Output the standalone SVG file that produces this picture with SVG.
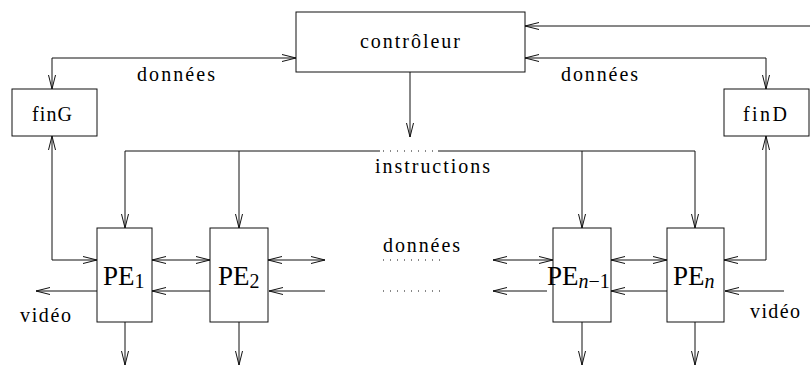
<svg xmlns="http://www.w3.org/2000/svg" width="810" height="366" viewBox="0 0 810 366">
  <style>
    .box { fill: #fff; stroke: #111; stroke-width: 1; }
    .wire { fill: none; stroke: #111; stroke-width: 1; }
    .dots { fill: none; stroke: #111; stroke-width: 1; stroke-dasharray: 1 6; }
    .lbl { font-family: "Liberation Serif", "Times New Roman", serif; font-size: 20px; fill: #000; }
    .pe { font-family: "Liberation Serif", "Times New Roman", serif; font-size: 27px; fill: #000; }
    .sub { font-size: 20px; }
    .it { font-style: italic; }
  </style>
  <defs>
    <marker id="arr" markerUnits="userSpaceOnUse" markerWidth="16" markerHeight="10" viewBox="-15 -5 16 10" refX="0" refY="0" orient="auto-start-reverse">
      <path d="M -14 -3.5 L 0 0 L -14 3.5" fill="none" stroke="#111" stroke-width="1"/>
    </marker>
  </defs>

  <!-- connectors -->
  <g id="connectors">
    <!-- external input into the controller -->
    <path class="wire" d="M 810 26 H 525" marker-end="url(#arr)"/>
    <!-- data links controller <-> edge buffers -->
    <path class="wire" d="M 296 58 H 52 V 89" marker-start="url(#arr)" marker-end="url(#arr)"/>
    <path class="wire" d="M 525 58 H 766 V 89" marker-start="url(#arr)" marker-end="url(#arr)"/>
    <!-- instruction broadcast -->
    <path class="wire" d="M 410 72 V 137" marker-end="url(#arr)"/>
    <path class="wire" d="M 125 151 H 380"/>
    <path class="dots" d="M 383 151 H 436"/>
    <path class="wire" d="M 438 151 H 695"/>
    <path class="wire" d="M 125 151 V 228" marker-end="url(#arr)"/>
    <path class="wire" d="M 239 151 V 228" marker-end="url(#arr)"/>
    <path class="wire" d="M 582 151 V 228" marker-end="url(#arr)"/>
    <path class="wire" d="M 695 151 V 228" marker-end="url(#arr)"/>
    <!-- edge buffers <-> end PEs -->
    <path class="wire" d="M 52 136 V 260 H 97" marker-start="url(#arr)" marker-end="url(#arr)"/>
    <path class="wire" d="M 766 136 V 260 H 724" marker-start="url(#arr)" marker-end="url(#arr)"/>
    <!-- neighbour data links -->
    <path class="wire" d="M 152 260 H 210" marker-start="url(#arr)" marker-end="url(#arr)"/>
    <path class="wire" d="M 268 260 H 325" marker-start="url(#arr)" marker-end="url(#arr)"/>
    <path class="dots" d="M 383 260 H 442"/>
    <path class="wire" d="M 493 260 H 553" marker-start="url(#arr)" marker-end="url(#arr)"/>
    <path class="wire" d="M 611 260 H 667" marker-start="url(#arr)" marker-end="url(#arr)"/>
    <!-- video shift chain -->
    <path class="wire" d="M 784 291 H 725" marker-end="url(#arr)"/>
    <path class="wire" d="M 667 291 H 611" marker-end="url(#arr)"/>
    <path class="wire" d="M 547 291 H 493" marker-end="url(#arr)"/>
    <path class="dots" d="M 383 291 H 444"/>
    <path class="wire" d="M 325 291 H 269" marker-end="url(#arr)"/>
    <path class="wire" d="M 210 291 H 152" marker-end="url(#arr)"/>
    <path class="wire" d="M 97 291 H 36" marker-end="url(#arr)"/>
    <!-- outputs -->
    <path class="wire" d="M 125 322 V 365" marker-end="url(#arr)"/>
    <path class="wire" d="M 239 322 V 365" marker-end="url(#arr)"/>
    <path class="wire" d="M 582 322 V 365" marker-end="url(#arr)"/>
    <path class="wire" d="M 695 322 V 365" marker-end="url(#arr)"/>
  </g>

  <!-- connector labels -->
  <g id="labels">
    <text class="lbl" x="137" y="81" textLength="78" lengthAdjust="spacing">données</text>
    <text class="lbl" x="561" y="81" textLength="77" lengthAdjust="spacing">données</text>
    <text class="lbl" x="375" y="173" textLength="115" lengthAdjust="spacing">instructions</text>
    <text class="lbl" x="383" y="252" textLength="77" lengthAdjust="spacing">données</text>
    <text class="lbl" x="20" y="322" textLength="51" lengthAdjust="spacing">vidéo</text>
    <text class="lbl" x="750" y="318" textLength="50" lengthAdjust="spacing">vidéo</text>
  </g>

  <g id="controleur">
    <rect class="box" x="296" y="12" width="229" height="60"/>
    <text class="lbl" x="360" y="48" textLength="100" lengthAdjust="spacing">contrôleur</text>
  </g>

  <g id="finG">
    <rect class="box" x="12" y="89" width="85" height="47"/>
    <text class="lbl" x="32" y="121" textLength="40" lengthAdjust="spacing">finG</text>
  </g>

  <g id="finD">
    <rect class="box" x="724" y="89" width="85" height="47"/>
    <text class="lbl" x="743" y="121" textLength="44" lengthAdjust="spacing">finD</text>
  </g>

  <g id="pe1">
    <rect class="box" x="97" y="228" width="55" height="94"/>
    <text class="pe" x="103" y="285">PE<tspan class="sub" dy="3">1</tspan></text>
  </g>

  <g id="pe2">
    <rect class="box" x="210" y="228" width="58" height="94"/>
    <text class="pe" x="218" y="285">PE<tspan class="sub" dy="3">2</tspan></text>
  </g>

  <g id="pe-n-1">
    <rect class="box" x="553" y="228" width="58" height="94"/>
    <text class="pe" x="547" y="285">PE<tspan class="sub it" dy="3">n</tspan><tspan class="sub">−1</tspan></text>
  </g>

  <g id="pe-n">
    <rect class="box" x="667" y="228" width="57" height="94"/>
    <text class="pe" x="673" y="285">PE<tspan class="sub it" dy="3">n</tspan></text>
  </g>
</svg>
